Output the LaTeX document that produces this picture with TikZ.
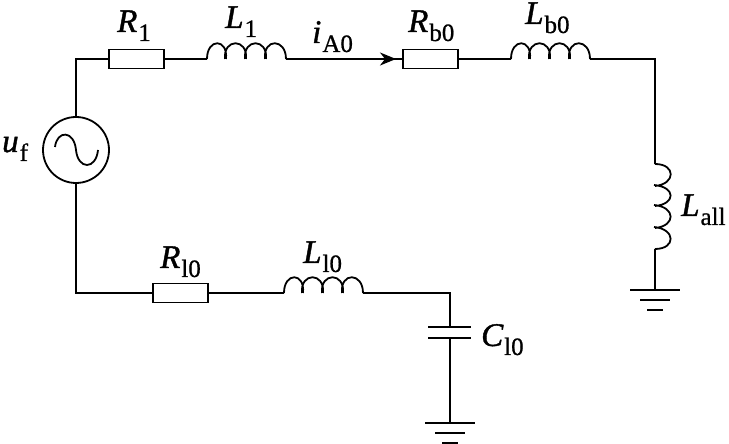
\documentclass[tikz,border=0pt]{standalone}
\usepackage{fontspec}
\setmainfont[FakeBold=0.8]{Liberation Serif}
\newfontfamily\labit[ItalicFeatures={FakeBold=1.2}]{Liberation Serif}
\usetikzlibrary{arrows.meta}
\newcommand{\Lab}[2]{{\fontsize{33}{33}\selectfont\labit\itshape #1}\kern1pt{\fontsize{25}{25}\selectfont\raisebox{-9pt}{#2}}}
\newcommand{\Hcoil}[3]{% name, left x, y
  \node[coilbox,minimum width=79pt,minimum height=16pt,anchor=south west] (#1) at (#2,#3) {};
  \draw[wire] (#2,#3) .. controls (#2,#3+21) and (#2+21,#3+21) .. (#2+19,#3)
    (#2+18,#3) .. controls (#2+16,#3+21) and (#2+41,#3+21) .. (#2+39,#3)
    (#2+38,#3) .. controls (#2+36,#3+21) and (#2+61,#3+21) .. (#2+59,#3)
    (#2+58,#3) .. controls (#2+56,#3+21) and (#2+79,#3+21) .. (#2+79,#3);}
\newcommand{\Ground}[3]{% name, x, y
  \coordinate (#1) at (#2,#3);
  \draw[wire] (#2-25,#3) -- (#2+25,#3) (#2-15,#3-10) -- (#2+15,#3-10) (#2-8,#3-20) -- (#2+8,#3-20);}
\tikzset{
  x=1pt,y=1pt,
  wire/.style={line width=1.8pt,black},
  resbox/.style={draw,line width=1.8pt,rectangle,minimum width=55pt,minimum height=19pt,inner sep=0pt,anchor=center},
  coilbox/.style={rectangle,inner sep=0pt,outer sep=0pt},
  lab/.style={inner sep=0pt,anchor=base west,text=black}
}
\begin{document}
\begin{tikzpicture}
\useasboundingbox (0,0) rectangle (729,444);
% y = 444 - pixel row
\node[draw,circle,line width=1.8pt,minimum size=66pt,inner sep=0pt] (src) at (76,294) {};
\draw[wire] (55,297) .. controls (57,314) and (74,314) .. (76,294) .. controls (78,274) and (96,274) .. (98,294);
\node[resbox] (r1) at (136.5,385) {};
\node[resbox] (rb) at (430.5,385) {};
\node[resbox] (rl) at (180.5,151) {};
\Hcoil{l1}{207}{385}
\Hcoil{lb}{511}{385}
\Hcoil{ll}{284}{151}
\coordinate (tl) at (76,385);
\coordinate (tr) at (655,385);
\coordinate (bl) at (76,151);
\coordinate (cr) at (450,151);
% vertical coil
\node[coilbox,minimum width=16pt,minimum height=85pt,anchor=north west] (la) at (655,280) {};
\draw[wire] (655,280) .. controls (676,280) and (676,260) .. (655,258)
  (654,259) .. controls (676,257) and (676,240) .. (655,238)
  (654,239) .. controls (676,237) and (676,218) .. (655,216)
  (654,217) .. controls (676,215) and (676,195) .. (655,195);
\Ground{g1}{655}{154}
\Ground{g2}{450}{21}
% capacitor
\coordinate (cp1) at (450,117);
\coordinate (cp2) at (450,106);
\draw[wire] (428,117) -- (471,117) (428,106) -- (471,106);
% connectors
\draw[wire] (src.north) -- (tl) -- (r1.west);
\draw[wire] (r1.east) -- (l1.south west);
\draw[wire] (l1.south east) -- (rb.west);
\draw[wire,-{Stealth[length=16pt,width=13pt,inset=5pt]}] (l1.south east) -- (396,385);
\draw[wire] (rb.east) -- (lb.south west);
\draw[wire] (lb.south east) -- (tr) -- (la.north west);
\draw[wire] (la.south west) -- (g1);
\draw[wire] (src.south) -- (bl) -- (rl.west);
\draw[wire] (rl.east) -- (ll.south west);
\draw[wire] (ll.south east) -- (cr) -- (cp1);
\draw[wire] (cp2) -- (g2);
% labels
\node[lab] (tR1) at (117,412) {\Lab{R}{1}};
\node[lab] (tL1) at (225,416) {\Lab{L}{1}};
\node[lab] (ti) at (312,401) {\Lab{i}{A0}};
\node[lab] (tRb) at (408,412) {\Lab{R}{b0}};
\node[lab] (tLb) at (525,420) {\Lab{L}{b0}};
\node[lab] (tLa) at (681,228) {\Lab{L}{all}};
\node[lab] (tu) at (2,292) {\Lab{u}{f}};
\node[lab] (tRl) at (160,176) {\Lab{R}{l0}};
\node[lab] (tLl) at (303,181) {\Lab{L}{l0}};
\node[lab] (tC) at (481,98) {\Lab{C}{l0}};
\end{tikzpicture}
\end{document}
